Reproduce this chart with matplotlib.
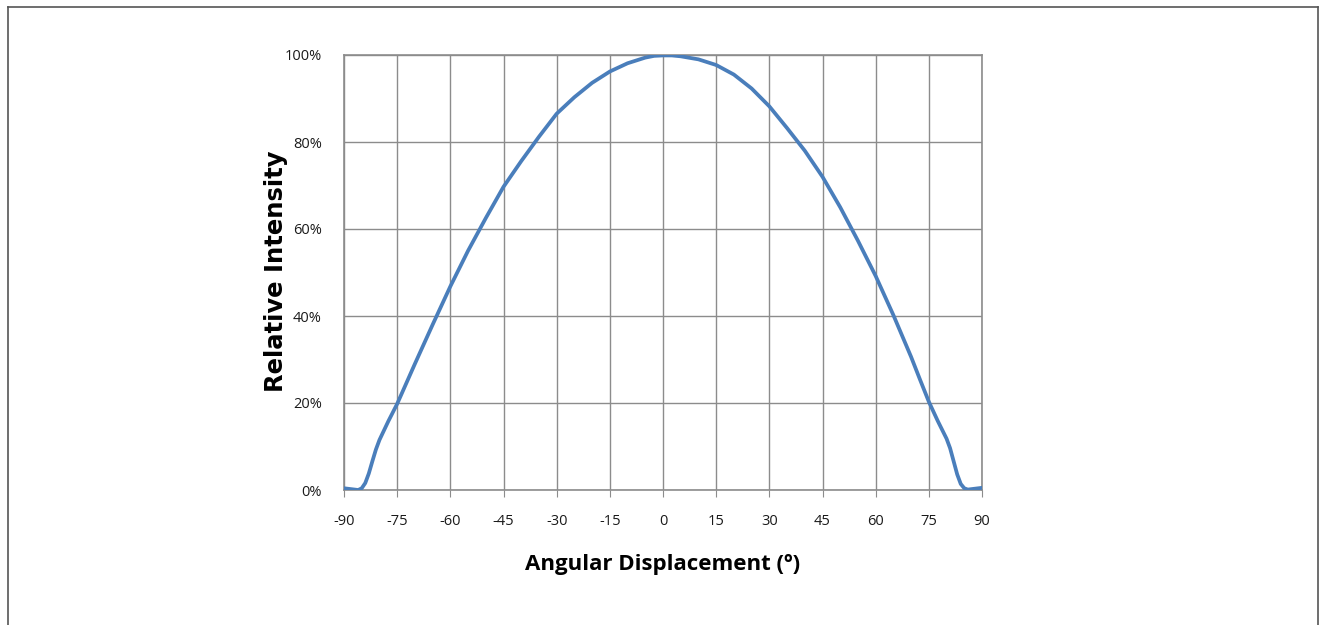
import matplotlib
matplotlib.use("Agg")
import matplotlib.pyplot as plt
from matplotlib.lines import Line2D
from matplotlib.ticker import FuncFormatter

plt.rcParams['axes.unicode_minus'] = False

# angle (deg) vs relative intensity (%)
angle = [-90, -88, -86, -85, -84, -83, -82, -81, -80, -77.5, -75, -72.5, -70, -65, -60, -55, -50, -45, -40, -35,
         -30, -25, -20, -15, -10, -5, -2.5,
         0, 2.5, 5, 10, 15, 20, 25, 30, 35, 40, 45, 50, 55, 60, 65, 70, 72.5, 75, 77.5, 80, 81, 82, 83, 84, 85,
         86, 88, 90]
intensity = [0.4, 0.2, 0.0, 0.4, 1.6, 3.8, 6.6, 9.3, 11.5, 15.8, 19.8, 24.4, 29.0, 38.0, 46.8, 55.0, 62.5, 69.7,
             75.6, 81.2, 86.5, 90.3, 93.6, 96.2, 98.1, 99.4, 99.8,
             99.9, 99.9, 99.7, 99.0, 97.7, 95.5, 92.3, 88.2, 83.2, 78.0, 72.0, 65.0, 57.3, 49.2, 40.2, 30.6, 25.4,
             20.3, 15.9, 11.8, 9.6, 6.6, 3.6, 1.4, 0.4, 0.1, 0.3, 0.5]

x_ticks = list(range(-90, 91, 15))
y_ticks = [0, 20, 40, 60, 80, 100]

narrow = ['Liberation Sans Narrow', 'Open Sans', 'DejaVu Sans']

fig = plt.figure(figsize=(13.2, 6.25), dpi=100)
ax = fig.add_axes([344/1320, 1-490/625, 638/1320, 435/625])

ax.plot(angle, intensity, color='#4a7ebb', lw=2.7, solid_joinstyle='round', solid_capstyle='round', zorder=3)

ax.set_xlim(-90, 90)
ax.set_ylim(0, 100)
ax.set_xticks(x_ticks)
ax.set_yticks(y_ticks)
ax.yaxis.set_major_formatter(FuncFormatter(lambda v, p: '%d%%' % v))
ax.grid(True, color='#8c8c8c', lw=1.0)
ax.set_axisbelow(True)
for s in ax.spines.values():
    s.set_color('#8c8c8c')
    s.set_linewidth(1.2)
ax.tick_params(axis='x', length=5, color='#8c8c8c', pad=12)
ax.tick_params(axis='y', length=0, pad=16)
for lab in ax.get_xticklabels() + ax.get_yticklabels():
    lab.set_family(narrow)
    lab.set_fontsize(10.5)
    lab.set_color('#1a1a1a')

ax.set_xlabel('Angular Displacement (º)', family=narrow, fontsize=16, fontweight='bold', labelpad=18)
fig.text(276/1320, 1-271/625, 'Relative Intensity', rotation=90, ha='center', va='center',
         fontsize=17.5, fontweight='bold', family='DejaVu Sans')

# outer frame (no bottom edge)
fc = '#555555'
fig.add_artist(Line2D([7.5/1320, 7.5/1320], [0, 1-6.5/625], color=fc, lw=1.2, transform=fig.transFigure))
fig.add_artist(Line2D([7.5/1320, 1318/1320], [1-6.5/625, 1-6.5/625], color=fc, lw=1.2, transform=fig.transFigure))
fig.add_artist(Line2D([1318/1320, 1318/1320], [0, 1-6.5/625], color=fc, lw=1.2, transform=fig.transFigure))

fig.savefig('out.png', dpi=100)
